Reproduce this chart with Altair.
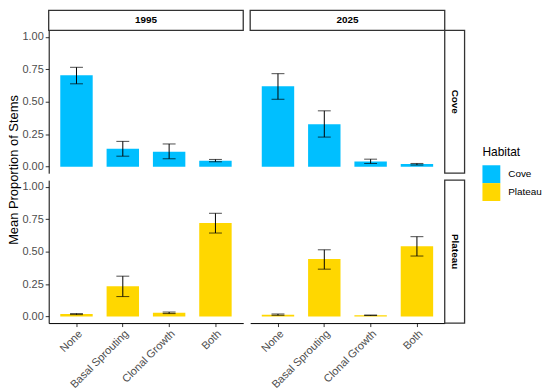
import altair as alt
import pandas as pd

categories = ["None", "Basal Sprouting", "Clonal Growth", "Both"]
years = ["1995", "2025"]
habitats = ["Cove", "Plateau"]
colors = ["#00BFFF", "#FFD700"]
y_ticks = [0.0, 0.25, 0.5, 0.75, 1.0]

cove_1995_mean = [0.704, 0.139, 0.116, 0.046]
cove_1995_lo = [0.638, 0.081, 0.061, 0.038]
cove_1995_hi = [0.765, 0.195, 0.175, 0.056]

cove_2025_mean = [0.620, 0.327, 0.040, 0.020]
cove_2025_lo = [0.519, 0.228, 0.025, 0.013]
cove_2025_hi = [0.716, 0.430, 0.058, 0.025]

plateau_1995_mean = [0.020, 0.233, 0.030, 0.720]
plateau_1995_lo = [0.015, 0.154, 0.023, 0.643]
plateau_1995_hi = [0.023, 0.311, 0.035, 0.795]

plateau_2025_mean = [0.015, 0.443, 0.010, 0.542]
plateau_2025_lo = [0.010, 0.365, 0.008, 0.466]
plateau_2025_hi = [0.020, 0.514, 0.012, 0.615]

series = {
    ("Cove", "1995"): (cove_1995_mean, cove_1995_lo, cove_1995_hi),
    ("Cove", "2025"): (cove_2025_mean, cove_2025_lo, cove_2025_hi),
    ("Plateau", "1995"): (plateau_1995_mean, plateau_1995_lo, plateau_1995_hi),
    ("Plateau", "2025"): (plateau_2025_mean, plateau_2025_lo, plateau_2025_hi),
}

rows = []
for (hab, yr), (m, lo, hi) in series.items():
    for c, a, b, d in zip(categories, m, lo, hi):
        rows.append(dict(habitat=hab, year=yr, category=c, mean=a, lo=b, hi=d))
df = pd.DataFrame(rows)

FONT = "Liberation Sans"
W, H = 196, 144
STRIP = 20

yscale = alt.Scale(domain=[-0.05, 1.05], nice=False, zero=False)
xscale = alt.Scale(paddingInner=0.3, paddingOuter=0.25)
xaxis = alt.Axis(title=None, labelAngle=-45, labelAlign="right", labelBaseline="top", labelPadding=1)
yaxis = alt.Axis(title=None, values=y_ticks, format=".2f", labelFlush=False, labelOverlap=False)

X = alt.X("category:N", sort=categories, scale=xscale, axis=xaxis)

bars = alt.Chart().mark_bar().encode(
    x=X,
    y=alt.Y("mean:Q", scale=yscale, axis=yaxis),
    y2=alt.datum(0),
    color=alt.Color(
        "habitat:N",
        scale=alt.Scale(domain=habitats, range=colors),
        legend=alt.Legend(
            title="Habitat",
            orient="none",
            legendX=437,
            legendY=118,
            symbolType="square",
            symbolSize=324,
            symbolStrokeWidth=0,
            rowPadding=0,
            titleFontSize=12,
            titleFontWeight="normal",
            titleColor="black",
            titleFont=FONT,
            labelFont=FONT,
            labelFontSize=10,
            labelColor="black",
            labelOffset=8,
            titlePadding=6,
        ),
    ),
)

err = alt.Chart().mark_rule(color="black", strokeWidth=1).encode(
    x=X,
    y=alt.Y("lo:Q", scale=yscale, axis=yaxis),
    y2="hi:Q",
)
cap_lo = alt.Chart().mark_tick(color="black", thickness=1, size=13).encode(
    x=X,
    y=alt.Y("lo:Q", scale=yscale, axis=yaxis),
)
cap_hi = alt.Chart().mark_tick(color="black", thickness=1, size=13).encode(
    x=X,
    y=alt.Y("hi:Q", scale=yscale, axis=yaxis),
)

top_filter = (alt.datum.habitat == "Cove") & (alt.datum.category == "None")
right_filter = (alt.datum.year == "2025") & (alt.datum.category == "None")

top_strip = alt.Chart().transform_filter(top_filter).mark_rect(
    fill="white", stroke="#333333", strokeWidth=1.3
).encode(x=alt.value(0), x2=alt.value(W), y=alt.value(-STRIP), y2=alt.value(0))
top_text = alt.Chart().transform_filter(top_filter).mark_text(
    font=FONT, fontSize=10, fontWeight="bold", color="black"
).encode(x=alt.value(W / 2), y=alt.value(-STRIP / 2), text="year:N")

right_strip = alt.Chart().transform_filter(right_filter).mark_rect(
    fill="white", stroke="#333333", strokeWidth=1.3
).encode(x=alt.value(W), x2=alt.value(W + STRIP), y=alt.value(0), y2=alt.value(H))
right_text = alt.Chart().transform_filter(right_filter).mark_text(
    font=FONT, fontSize=10, fontWeight="bold", color="black", angle=90
).encode(x=alt.value(W + STRIP / 2), y=alt.value(H / 2), text="habitat:N")

layered = alt.layer(
    bars, err, cap_lo, cap_hi, top_strip, top_text, right_strip, right_text, data=df
).properties(width=W, height=H)

chart = layered.facet(
    row=alt.Row("habitat:N", sort=habitats, header=None),
    column=alt.Column("year:N", sort=years, header=None),
    spacing={"row": 7, "column": 7},
    bounds="flush",
).properties(
    padding=0,
    title=alt.TitleParams(
        "Mean Proportion of Stems",
        orient="left",
        anchor="middle",
        frame="bounds",
        font=FONT,
        fontSize=13,
        fontWeight="normal",
        color="black",
        offset=1,
        dx=30,
    ),
).configure_view(stroke=None).configure_axis(
    domainColor="black",
    domainWidth=1,
    tickColor="#333333",
    tickSize=3.5,
    labelColor="#4D4D4D",
    labelFont=FONT,
    labelFontSize=11,
    grid=False,
    labelPadding=2,
)

chart.save("out.html", embed_options={"renderer": "svg", "actions": False})
